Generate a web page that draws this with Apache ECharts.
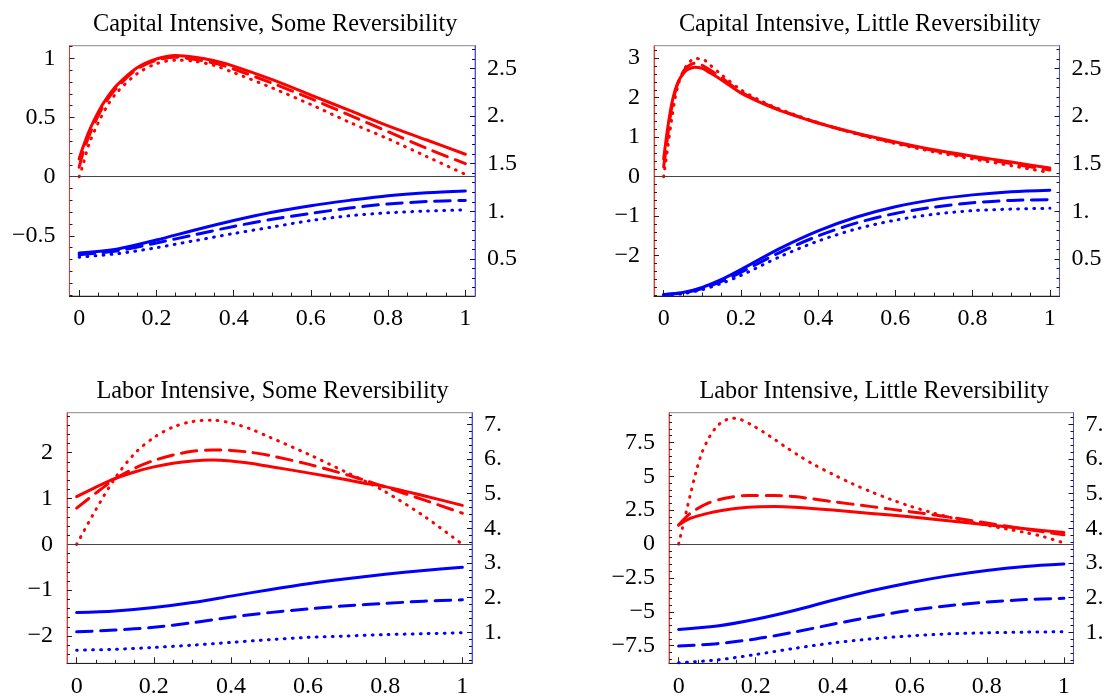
<!DOCTYPE html>
<html>
<head>
<meta charset="utf-8">
<script src="https://cdn.jsdelivr.net/npm/echarts@6/dist/echarts.min.js"></script>
<style>
  html, body { margin: 0; padding: 0; background: #ffffff; }
  #chart { width: 1107px; height: 698px; }
</style>
</head>
<body>
<div id="chart"></div>
<script>
// ---------- Capital Intensive, Some Reversibility ----------
const capSomeRedX = [0, 0.01, 0.025, 0.05, 0.075, 0.1, 0.15, 0.2, 0.25, 0.3, 0.35, 0.4, 0.5, 0.6, 0.7, 0.8, 0.9, 1];
const capSomeRedSolid = [0.15, 0.25, 0.38, 0.55, 0.68, 0.78, 0.92, 0.995, 1.025, 1.01, 0.98, 0.935, 0.82, 0.69, 0.56, 0.43, 0.31, 0.19];
const capSomeRedDashed = [0.08, 0.2, 0.34, 0.52, 0.66, 0.76, 0.91, 0.985, 1.01, 0.99, 0.96, 0.91, 0.79, 0.66, 0.52, 0.38, 0.24, 0.11];
const capSomeRedDotted = [0, 0.1, 0.27, 0.46, 0.61, 0.72, 0.87, 0.955, 0.985, 0.975, 0.94, 0.88, 0.75, 0.61, 0.46, 0.32, 0.17, 0.02];
const capSomeBlueX = [0, 0.1, 0.2, 0.3, 0.4, 0.5, 0.6, 0.7, 0.8, 0.9, 1];
const capSomeBlueSolid = [-0.645, -0.61, -0.535, -0.45, -0.37, -0.3, -0.245, -0.2, -0.16, -0.135, -0.12];
const capSomeBlueDashed = [-0.66, -0.625, -0.56, -0.49, -0.42, -0.36, -0.31, -0.265, -0.23, -0.21, -0.2];
const capSomeBlueDotted = [-0.68, -0.65, -0.6, -0.54, -0.48, -0.425, -0.37, -0.33, -0.305, -0.29, -0.28];

// ---------- Capital Intensive, Little Reversibility ----------
const capLittleRedX = [0, 0.01, 0.02, 0.03, 0.04, 0.05, 0.06, 0.08, 0.1, 0.12, 0.15, 0.2, 0.25, 0.3, 0.4, 0.5, 0.6, 0.7, 0.8, 0.9, 1];
const capLittleRedSolid = [0.45, 1.2, 1.8, 2.2, 2.45, 2.6, 2.7, 2.77, 2.74, 2.63, 2.45, 2.12, 1.88, 1.68, 1.36, 1.1, 0.88, 0.68, 0.52, 0.37, 0.22];
const capLittleRedDashed = [0.25, 1.0, 1.7, 2.15, 2.45, 2.65, 2.77, 2.87, 2.82, 2.7, 2.5, 2.15, 1.9, 1.69, 1.36, 1.09, 0.86, 0.66, 0.49, 0.33, 0.17];
const capLittleRedDotted = [0, 0.7, 1.4, 2.0, 2.4, 2.65, 2.82, 2.99, 2.98, 2.83, 2.58, 2.2, 1.93, 1.71, 1.37, 1.08, 0.84, 0.63, 0.45, 0.28, 0.1];
const capLittleBlueX = [0, 0.05, 0.1, 0.15, 0.2, 0.3, 0.4, 0.5, 0.6, 0.7, 0.8, 0.9, 1];
const capLittleBlueSolid = [-2.98, -2.93, -2.8, -2.6, -2.35, -1.82, -1.37, -1.02, -0.76, -0.58, -0.46, -0.38, -0.34];
const capLittleBlueDashed = [-2.99, -2.94, -2.83, -2.65, -2.42, -1.92, -1.5, -1.17, -0.93, -0.77, -0.66, -0.6, -0.58];
const capLittleBlueDotted = [-3.0, -2.96, -2.86, -2.7, -2.5, -2.03, -1.63, -1.32, -1.1, -0.95, -0.86, -0.82, -0.8];

// ---------- Labor Intensive, Some Reversibility ----------
const labSomeRedX = [0, 0.05, 0.1, 0.15, 0.2, 0.25, 0.3, 0.35, 0.4, 0.45, 0.5, 0.6, 0.7, 0.75, 0.8, 0.9, 1];
const labSomeRedSolid = [1.04, 1.25, 1.44, 1.58, 1.69, 1.77, 1.82, 1.84, 1.82, 1.77, 1.70, 1.56, 1.41, 1.33, 1.26, 1.06, 0.85];
const labSomeRedDashed = [0.79, 1.12, 1.43, 1.66, 1.83, 1.95, 2.03, 2.06, 2.05, 2.01, 1.94, 1.75, 1.52, 1.39, 1.25, 0.97, 0.68];
const labSomeRedDotted = [0, 0.76, 1.45, 1.98, 2.33, 2.56, 2.68, 2.71, 2.65, 2.52, 2.34, 1.97, 1.57, 1.37, 1.15, 0.62, 0];
const labSomeBlueX = [0, 0.1, 0.2, 0.3, 0.4, 0.5, 0.6, 0.7, 0.8, 0.9, 1];
const labSomeBlueSolid = [-1.49, -1.455, -1.38, -1.27, -1.13, -0.99, -0.86, -0.75, -0.655, -0.57, -0.5];
const labSomeBlueDashed = [-1.91, -1.87, -1.81, -1.71, -1.59, -1.49, -1.41, -1.34, -1.29, -1.24, -1.21];
const labSomeBlueDotted = [-2.31, -2.29, -2.25, -2.2, -2.14, -2.08, -2.03, -2.0, -1.97, -1.95, -1.93];

// ---------- Labor Intensive, Little Reversibility ----------
const labLittleRedX = [0, 0.03, 0.075, 0.12, 0.18, 0.25, 0.3, 0.4, 0.5, 0.6, 0.7, 0.8, 0.9, 1];
const labLittleRedSolid = [1.4, 1.89, 2.26, 2.51, 2.71, 2.76, 2.71, 2.51, 2.26, 2.01, 1.71, 1.42, 1.12, 0.85];
const labLittleRedDashed = [1.4, 2.26, 3.0, 3.38, 3.58, 3.58, 3.5, 3.13, 2.76, 2.39, 2.0, 1.55, 1.1, 0.68];
const labLittleDottedX = [0, 0.01, 0.02, 0.03, 0.045, 0.06, 0.08, 0.1, 0.12, 0.14, 0.16, 0.19, 0.22, 0.25, 0.28, 0.31, 0.35, 0.4, 0.45, 0.5, 0.55, 0.6, 0.65, 0.7, 0.75, 0.8, 0.85, 0.9, 0.95, 1];
const labLittleRedDotted = [0, 1.2, 2.4, 3.6, 5.3, 6.7, 7.9, 8.7, 9.12, 9.28, 9.2, 8.78, 8.27, 7.7, 7.12, 6.56, 5.88, 5.15, 4.46, 3.85, 3.3, 2.8, 2.38, 2.0, 1.67, 1.38, 1.12, 0.85, 0.52, 0.08];
const labLittleBlueX = [0, 0.1, 0.2, 0.3, 0.4, 0.5, 0.6, 0.7, 0.8, 0.9, 1];
const labLittleBlueSolid = [-6.3, -6.05, -5.55, -4.9, -4.15, -3.45, -2.85, -2.35, -1.95, -1.66, -1.48];
const labLittleBlueDashed = [-7.53, -7.35, -7.0, -6.5, -5.92, -5.38, -4.9, -4.55, -4.28, -4.1, -4.0];
const labLittleBlueDotted = [-8.76, -8.55, -8.15, -7.7, -7.3, -7.0, -6.78, -6.63, -6.55, -6.5, -6.47];

// ---------- tick values and labels ----------
const xTickValues = [0, 0.2, 0.4, 0.6, 0.8, 1];
const xTickLabels = ['0', '0.2', '0.4', '0.6', '0.8', '1'];
const capSomeLeftTicks = [-0.5, 0, 0.5, 1];
const capSomeLeftLabels = ['\u22120.5', '0', '0.5', '1'];
const capLittleLeftTicks = [-2, -1, 0, 1, 2, 3];
const capLittleLeftLabels = ['\u22122', '\u22121', '0', '1', '2', '3'];
const labSomeLeftTicks = [-2, -1, 0, 1, 2];
const labSomeLeftLabels = ['\u22122', '\u22121', '0', '1', '2'];
const labLittleLeftTicks = [-7.5, -5, -2.5, 0, 2.5, 5, 7.5];
const labLittleLeftLabels = ['\u22127.5', '\u22125', '\u22122.5', '0', '2.5', '5', '7.5'];
const capRightTicks = [0.5, 1, 1.5, 2, 2.5];
const capRightLabels = ['0.5', '1.', '1.5', '2.', '2.5'];
const labRightTicks = [1, 2, 3, 4, 5, 6, 7];
const labRightLabels = ['1.', '2.', '3.', '4.', '5.', '6.', '7.'];

const FONT = '"Liberation Serif", "Times New Roman", Times, serif';
const RED = '#ff0000';
const BLUE = '#0000ff';
// dash patterns are drawn with round caps, so the visible marks are a little longer than the dash values
const SOLID = 'solid';
const DASHED = [15.5, 8.5];
const DOTTED = [0.8, 7.2];
const X_RANGE = [-0.025, 1.025];

function pairs(xs, ys) { return xs.map((x, i) => [x, ys[i]]); }

// evenly spaced minor tick positions, skipping the labelled ones
function minorTicks(from, to, step, majors) {
  const out = [];
  const n = Math.round((to - from) / step);
  for (let i = 0; i <= n; i++) {
    const v = Math.round((from + i * step) * 1e6) / 1e6;
    if (!majors.some(m => Math.abs(m - v) < 1e-6)) out.push(v);
  }
  return out;
}

function labeller(values, labels) {
  return v => {
    const i = values.findIndex(t => Math.abs(t - v) < 1e-9);
    return i < 0 ? '' : labels[i];
  };
}

const panels = [
  {
    title: 'Capital Intensive, Some Reversibility',
    box: [69.5, 45.7, 405.5, 250.3],
    yRange: [-1.008, 1.107], leftTicks: capSomeLeftTicks, leftLabels: capSomeLeftLabels,
    leftMinor: minorTicks(-1.0, 1.1, 0.1, capSomeLeftTicks),
    rRange: [0.112, 2.737], rightTicks: capRightTicks, rightLabels: capRightLabels,
    rightMinor: minorTicks(0.2, 2.7, 0.1, capRightTicks),
    curves: [
      [capSomeRedX, capSomeRedSolid, RED, SOLID],
      [capSomeRedX, capSomeRedDashed, RED, DASHED],
      [capSomeRedX, capSomeRedDotted, RED, DOTTED],
      [capSomeBlueX, capSomeBlueSolid, BLUE, SOLID],
      [capSomeBlueX, capSomeBlueDashed, BLUE, DASHED],
      [capSomeBlueX, capSomeBlueDotted, BLUE, DOTTED]
    ]
  },
  {
    title: 'Capital Intensive, Little Reversibility',
    box: [654, 45.7, 405.5, 250.3],
    yRange: [-3.02, 3.316], leftTicks: capLittleLeftTicks, leftLabels: capLittleLeftLabels,
    leftMinor: minorTicks(-3.0, 3.2, 0.2, capLittleLeftTicks),
    rRange: [0.112, 2.737], rightTicks: capRightTicks, rightLabels: capRightLabels,
    rightMinor: minorTicks(0.2, 2.7, 0.1, capRightTicks),
    curves: [
      [capLittleRedX, capLittleRedSolid, RED, SOLID],
      [capLittleRedX, capLittleRedDashed, RED, DASHED],
      [capLittleRedX, capLittleRedDotted, RED, DOTTED],
      [capLittleBlueX, capLittleBlueSolid, BLUE, SOLID],
      [capLittleBlueX, capLittleBlueDashed, BLUE, DASHED],
      [capLittleBlueX, capLittleBlueDotted, BLUE, DOTTED]
    ]
  },
  {
    title: 'Labor Intensive, Some Reversibility',
    box: [67, 412.7, 405, 250.6],
    yRange: [-2.596, 2.873], leftTicks: labSomeLeftTicks, leftLabels: labSomeLeftLabels,
    leftMinor: minorTicks(-2.4, 2.8, 0.2, labSomeLeftTicks),
    rRange: [0.107, 7.334], rightTicks: labRightTicks, rightLabels: labRightLabels,
    rightMinor: minorTicks(0.2, 7.2, 0.2, labRightTicks),
    curves: [
      [labSomeRedX, labSomeRedSolid, RED, SOLID],
      [labSomeRedX, labSomeRedDashed, RED, DASHED],
      [labSomeRedX, labSomeRedDotted, RED, DOTTED],
      [labSomeBlueX, labSomeBlueSolid, BLUE, SOLID],
      [labSomeBlueX, labSomeBlueDashed, BLUE, DASHED],
      [labSomeBlueX, labSomeBlueDotted, BLUE, DOTTED]
    ]
  },
  {
    title: 'Labor Intensive, Little Reversibility',
    box: [669, 412.7, 404.5, 250.6],
    yRange: [-8.8, 9.69], leftTicks: labLittleLeftTicks, leftLabels: labLittleLeftLabels,
    leftMinor: minorTicks(-8.5, 9.5, 0.5, labLittleLeftTicks),
    rRange: [0.107, 7.334], rightTicks: labRightTicks, rightLabels: labRightLabels,
    rightMinor: minorTicks(0.2, 7.2, 0.2, labRightTicks),
    curves: [
      [labLittleRedX, labLittleRedSolid, RED, SOLID],
      [labLittleRedX, labLittleRedDashed, RED, DASHED],
      [labLittleDottedX, labLittleRedDotted, RED, DOTTED],
      [labLittleBlueX, labLittleBlueSolid, BLUE, SOLID],
      [labLittleBlueX, labLittleBlueDashed, BLUE, DASHED],
      [labLittleBlueX, labLittleBlueDotted, BLUE, DOTTED]
    ]
  }
];

const xMinor = minorTicks(0, 1, 0.05, xTickValues);
const labelText = { fontFamily: FONT, fontSize: 24, color: '#000' };

const grid = [], xAxis = [], yAxis = [], series = [], graphic = [];

panels.forEach((p, k) => {
  grid.push({
    left: p.box[0], top: p.box[1], width: p.box[2], height: p.box[3],
    show: true, borderColor: '#8a8a8a', borderWidth: 1, backgroundColor: 'transparent',
    containLabel: false, outerBoundsMode: 'none'
  });

  // bottom axis with labelled ticks, plus an overlaid axis carrying the short ticks
  xAxis.push({
    gridIndex: k, type: 'value', position: 'bottom', min: X_RANGE[0], max: X_RANGE[1],
    axisLine: { show: true, onZero: false, lineStyle: { color: '#222', width: 1 } },
    axisTick: { show: true, inside: true, length: 6, customValues: xTickValues, lineStyle: { color: '#222', width: 1 } },
    axisLabel: Object.assign({ show: true, margin: 11, customValues: xTickValues, formatter: labeller(xTickValues, xTickLabels) }, labelText),
    splitLine: { show: false }
  });
  xAxis.push({
    gridIndex: k, type: 'value', position: 'bottom', min: X_RANGE[0], max: X_RANGE[1],
    axisLine: { show: false, onZero: false },
    axisTick: { show: true, inside: true, length: 3.5, customValues: xMinor, lineStyle: { color: '#222', width: 1 } },
    axisLabel: { show: false },
    splitLine: { show: false }
  });

  // left axis (scale of the curves)
  yAxis.push({
    gridIndex: k, type: 'value', position: 'left', min: p.yRange[0], max: p.yRange[1],
    axisLine: { show: true, onZero: false, lineStyle: { color: '#ff3030', width: 1 } },
    axisTick: { show: true, inside: true, length: 5, customValues: p.leftTicks, lineStyle: { color: '#4a1010', width: 1 } },
    axisLabel: Object.assign({ show: true, margin: 14, customValues: p.leftTicks, formatter: labeller(p.leftTicks, p.leftLabels) }, labelText),
    splitLine: { show: false }
  });
  yAxis.push({
    gridIndex: k, type: 'value', position: 'left', min: p.yRange[0], max: p.yRange[1],
    axisLine: { show: false, onZero: false },
    axisTick: { show: true, inside: true, length: 3, customValues: p.leftMinor, lineStyle: { color: '#4a1010', width: 1 } },
    axisLabel: { show: false },
    splitLine: { show: false }
  });

  // right axis
  yAxis.push({
    gridIndex: k, type: 'value', position: 'right', min: p.rRange[0], max: p.rRange[1],
    axisLine: { show: true, onZero: false, lineStyle: { color: '#4848ff', width: 1 } },
    axisTick: { show: true, inside: true, length: 5, customValues: p.rightTicks, lineStyle: { color: '#10104a', width: 1 } },
    axisLabel: Object.assign({ show: true, margin: 12, customValues: p.rightTicks, formatter: labeller(p.rightTicks, p.rightLabels) }, labelText),
    splitLine: { show: false }
  });
  yAxis.push({
    gridIndex: k, type: 'value', position: 'right', min: p.rRange[0], max: p.rRange[1],
    axisLine: { show: false, onZero: false },
    axisTick: { show: true, inside: true, length: 3, customValues: p.rightMinor, lineStyle: { color: '#10104a', width: 1 } },
    axisLabel: { show: false },
    splitLine: { show: false }
  });

  p.curves.forEach((c, j) => {
    const s = {
      type: 'line',
      xAxisIndex: 2 * k, yAxisIndex: 4 * k,
      data: pairs(c[0], c[1]),
      showSymbol: false, symbol: 'none',
      smooth: 0.3,
      clip: true, silent: true, animation: false,
      lineStyle: { color: c[2], width: 3, type: c[3], cap: 'round', join: 'round' },
      z: 3
    };
    if (j === 0) {
      s.markLine = {
        silent: true, animation: false, symbol: ['none', 'none'],
        label: { show: false },
        lineStyle: { color: '#444', width: 1, type: 'solid' },
        data: [{ yAxis: 0 }]
      };
    }
    series.push(s);
  });

  graphic.push({
    type: 'text',
    x: p.box[0] + p.box[2] / 2 + 3,
    y: p.box[1] - 21,
    style: {
      text: p.title, fill: '#000', fontFamily: FONT, fontSize: 24.3,
      align: 'center', verticalAlign: 'middle'
    }
  });
});

const chart = echarts.init(document.getElementById('chart'), null, { renderer: 'canvas' });
chart.setOption({
  backgroundColor: '#ffffff',
  animation: false,
  grid, xAxis, yAxis, series, graphic
});
</script>
</body>
</html>
